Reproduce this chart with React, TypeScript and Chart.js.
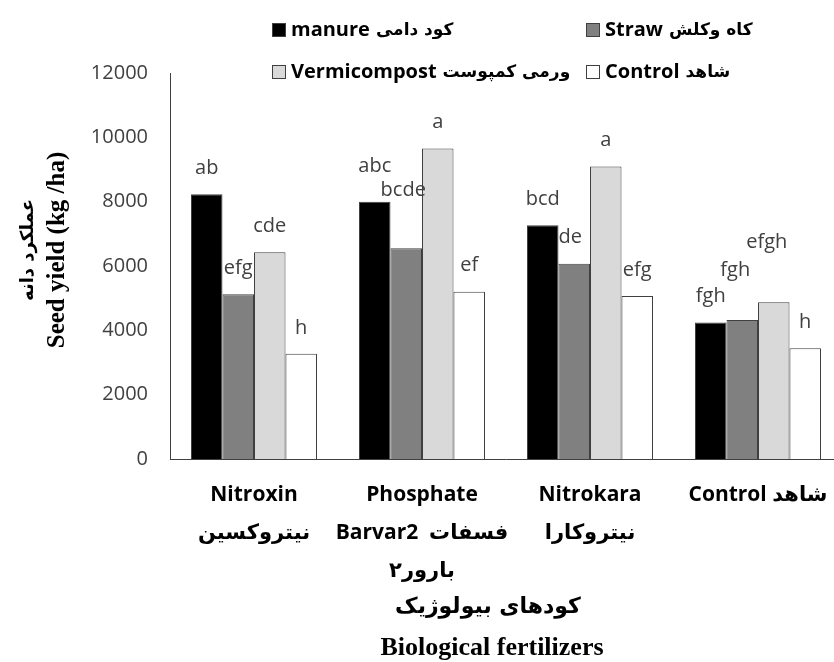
import React, { useEffect, useRef } from "react";
import { Chart, registerables } from "chart.js";

Chart.register(...registerables);

// ---- data ----
const categories: string[][] = [
  ["Nitroxin", "نیتروکسین"],
  ["Phosphate", "Barvar2  فسفات", "بارور۲"],
  ["Nitrokara", "نیتروکارا"],
  ["Control شاهد"],
];
const seriesNames = ["manure", "Straw", "Vermicompost", "Control"];
const seriesNamesFa = ["کود دامی", "کاه وکلش", "ورمی کمپوست", "شاهد"];
const manure = [8230, 8000, 7270, 4240];
const straw = [5120, 6550, 6070, 4320];
const vermicompost = [6430, 9650, 9090, 4870];
const control = [3270, 5200, 5070, 3440];
const manureLetters = ["ab", "abc", "bcd", "fgh"];
const strawLetters = ["efg", "bcde", "de", "fgh"];
const vermicompostLetters = ["cde", "a", "a", "efgh"];
const controlLetters = ["h", "ef", "efg", "h"];
const yTicks = [0, 2000, 4000, 6000, 8000, 10000, 12000];
const yTitle = ["عملکرد دانه", "Seed yield (kg /ha)"];
const xTitle = ["کودهای بیولوژیک", "Biological fertilizers"];

// ---- style ----
const colors = ["#000000", "#808080", "#d9d9d9", "#ffffff"];
const edge = "#404040";
const letterLift = [
  [0, 9, 0, 0],
  [0, 32, 0, 24],
  [0, 0, 0, 34],
  [0, 0, 0, 0],
];
const letterShift = [
  [0, 0, 0, 0],
  [0, -3, -4, -7],
  [0, 0, 0, -7],
  [0, 0, 0, 0],
];
const legendCols = [272, 586];
const legendRows = [30, 72];

const allLetters = [manureLetters, strawLetters, vermicompostLetters, controlLetters];

const letterPlugin = {
  id: "letters",
  afterDatasetsDraw(chart: any) {
    const ctx = chart.ctx;
    ctx.save();
    ctx.font = '20px "Open Sans"';
    ctx.fillStyle = "#404040";
    ctx.textAlign = "center";
    ctx.textBaseline = "middle";
    chart.data.datasets.forEach((_ds: any, i: number) => {
      const meta = chart.getDatasetMeta(i);
      meta.data.forEach((el: any, j: number) => {
        const p = el.getProps(["x", "y"], true);
        ctx.fillText(allLetters[i][j], p.x + letterShift[i][j], p.y - 26 - letterLift[i][j]);
      });
    });
    ctx.restore();
  },
};

const legendPlugin = {
  id: "customLegend",
  afterDraw(chart: any) {
    const ctx = chart.ctx;
    ctx.save();
    ctx.textBaseline = "middle";
    ctx.textAlign = "left";
    seriesNames.forEach((name, i) => {
      const x = legendCols[i % 2];
      const y = legendRows[Math.floor(i / 2)];
      ctx.fillStyle = colors[i];
      ctx.fillRect(x, y - 7, 14, 14);
      ctx.strokeStyle = edge;
      ctx.lineWidth = 1;
      ctx.strokeRect(x + 0.5, y - 6.5, 13, 13);
      ctx.fillStyle = "#000";
      ctx.font = 'bold 20px "Open Sans"';
      ctx.fillText(name, x + 19, y);
      const w = ctx.measureText(name).width;
      ctx.font = 'bold 17px "DejaVu Sans"';
      ctx.fillText(seriesNamesFa[i], x + 19 + w + 6, y + 1);
    });
    ctx.restore();
  },
};

const titlePlugin = {
  id: "axisTitles",
  afterDraw(chart: any) {
    const ctx = chart.ctx;
    ctx.fillStyle = "#000";
    ctx.textAlign = "center";
    ctx.textBaseline = "middle";
    const yc = 250;
    ctx.save();
    ctx.translate(28, yc);
    ctx.rotate(-Math.PI / 2);
    ctx.font = 'bold 18px "DejaVu Sans"';
    ctx.fillText(yTitle[0], 0, 0);
    ctx.restore();
    ctx.save();
    ctx.fillStyle = "#000";
    ctx.textAlign = "center";
    ctx.textBaseline = "middle";
    ctx.translate(58, yc);
    ctx.rotate(-Math.PI / 2);
    ctx.font = 'bold 25px "Liberation Serif"';
    ctx.fillText(yTitle[1], 0, 0);
    ctx.restore();
    ctx.save();
    ctx.fillStyle = "#000";
    ctx.textAlign = "center";
    ctx.textBaseline = "middle";
    ctx.font = 'bold 22px "DejaVu Sans"';
    ctx.fillText(xTitle[0], 488, 607);
    ctx.font = 'bold 26px "Liberation Serif"';
    ctx.fillText(xTitle[1], 492, 648);
    ctx.restore();
  },
};

export default function App() {
  const ref = useRef<HTMLCanvasElement | null>(null);
  useEffect(() => {
    if (!ref.current) return;
    const chart = new Chart(ref.current, {
      type: "bar",
      data: {
        labels: categories,
        datasets: [manure, straw, vermicompost, control].map((d, i) => ({
          label: seriesNames[i],
          data: d,
          backgroundColor: colors[i],
          borderColor: edge,
          borderWidth: 1,
          barPercentage: 1,
          categoryPercentage: 0.75,
        })),
      },
      options: {
        responsive: false,
        animation: false,
        layout: { padding: { top: 73, left: 0, right: 8, bottom: 0 } },
        plugins: { legend: { display: false }, tooltip: { enabled: false } },
        scales: {
          x: {
            grid: { display: false, drawTicks: false },
            border: { color: edge, width: 1 },
            ticks: {
              font: { family: '"Open Sans", "DejaVu Sans"', size: 21, weight: "bold", lineHeight: 38 / 21 },
              color: "#000",
              padding: 17,
              maxRotation: 0,
              minRotation: 0,
              autoSkip: false,
            },
            title: { display: false },
            afterFit: (s: any) => {
              s.height = 221;
            },
          },
          y: {
            min: 0,
            max: 12000,
            afterBuildTicks: (s: any) => {
              s.ticks = yTicks.map((v) => ({ value: v }));
            },
            grid: { display: false, drawTicks: false },
            border: { color: edge, width: 1 },
            ticks: {
              font: { family: '"Open Sans"', size: 20 },
              color: "#404040",
              padding: 22,
              callback: (v: any) => String(v),
            },
            title: { display: false },
            afterFit: (s: any) => {
              s.width = 170;
            },
          },
        },
      },
      plugins: [letterPlugin, legendPlugin, titlePlugin],
    } as any);
    return () => chart.destroy();
  }, []);
  return (
    <div style={{ position: "absolute", left: 0, top: 0, width: 834, height: 662, overflow: "hidden", background: "#fff" }}>
      <canvas ref={ref} width={850} height={680} style={{ display: "block" }} />
    </div>
  );
}
